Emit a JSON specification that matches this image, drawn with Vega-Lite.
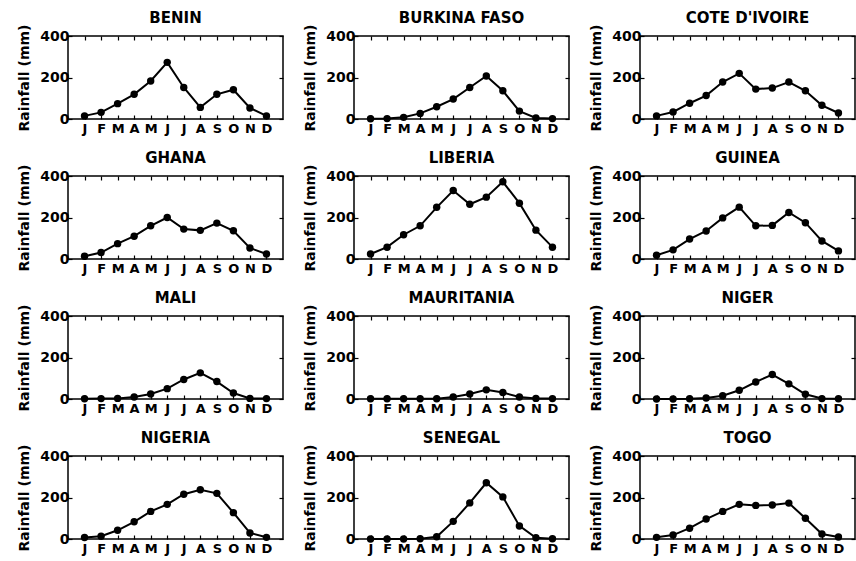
{
  "$schema": "https://vega.github.io/schema/vega-lite/v6.json",
  "background": "white",
  "padding": {"left": 17, "top": 10, "right": 2, "bottom": 2},
  "data": {"values": [
    {"c":"BENIN","i":1,"r":15},{"c":"BENIN","i":2,"r":32},{"c":"BENIN","i":3,"r":74},{"c":"BENIN","i":4,"r":119},{"c":"BENIN","i":5,"r":183},{"c":"BENIN","i":6,"r":273},{"c":"BENIN","i":7,"r":152},{"c":"BENIN","i":8,"r":56},{"c":"BENIN","i":9,"r":119},{"c":"BENIN","i":10,"r":141},{"c":"BENIN","i":11,"r":53},{"c":"BENIN","i":12,"r":15},
    {"c":"BURKINA FASO","i":1,"r":1},{"c":"BURKINA FASO","i":2,"r":2},{"c":"BURKINA FASO","i":3,"r":8},{"c":"BURKINA FASO","i":4,"r":27},{"c":"BURKINA FASO","i":5,"r":59},{"c":"BURKINA FASO","i":6,"r":96},{"c":"BURKINA FASO","i":7,"r":152},{"c":"BURKINA FASO","i":8,"r":207},{"c":"BURKINA FASO","i":9,"r":136},{"c":"BURKINA FASO","i":10,"r":38},{"c":"BURKINA FASO","i":11,"r":5},{"c":"BURKINA FASO","i":12,"r":2},
    {"c":"COTE D'IVOIRE","i":1,"r":15},{"c":"COTE D'IVOIRE","i":2,"r":34},{"c":"COTE D'IVOIRE","i":3,"r":76},{"c":"COTE D'IVOIRE","i":4,"r":113},{"c":"COTE D'IVOIRE","i":5,"r":178},{"c":"COTE D'IVOIRE","i":6,"r":220},{"c":"COTE D'IVOIRE","i":7,"r":144},{"c":"COTE D'IVOIRE","i":8,"r":149},{"c":"COTE D'IVOIRE","i":9,"r":178},{"c":"COTE D'IVOIRE","i":10,"r":136},{"c":"COTE D'IVOIRE","i":11,"r":66},{"c":"COTE D'IVOIRE","i":12,"r":29},
    {"c":"GHANA","i":1,"r":13},{"c":"GHANA","i":2,"r":31},{"c":"GHANA","i":3,"r":74},{"c":"GHANA","i":4,"r":110},{"c":"GHANA","i":5,"r":160},{"c":"GHANA","i":6,"r":200},{"c":"GHANA","i":7,"r":144},{"c":"GHANA","i":8,"r":138},{"c":"GHANA","i":9,"r":173},{"c":"GHANA","i":10,"r":136},{"c":"GHANA","i":11,"r":53},{"c":"GHANA","i":12,"r":24},
    {"c":"LIBERIA","i":1,"r":24},{"c":"LIBERIA","i":2,"r":57},{"c":"LIBERIA","i":3,"r":117},{"c":"LIBERIA","i":4,"r":160},{"c":"LIBERIA","i":5,"r":249},{"c":"LIBERIA","i":6,"r":330},{"c":"LIBERIA","i":7,"r":264},{"c":"LIBERIA","i":8,"r":298},{"c":"LIBERIA","i":9,"r":372},{"c":"LIBERIA","i":10,"r":269},{"c":"LIBERIA","i":11,"r":139},{"c":"LIBERIA","i":12,"r":57},
    {"c":"GUINEA","i":1,"r":18},{"c":"GUINEA","i":2,"r":44},{"c":"GUINEA","i":3,"r":96},{"c":"GUINEA","i":4,"r":135},{"c":"GUINEA","i":5,"r":198},{"c":"GUINEA","i":6,"r":250},{"c":"GUINEA","i":7,"r":160},{"c":"GUINEA","i":8,"r":162},{"c":"GUINEA","i":9,"r":224},{"c":"GUINEA","i":10,"r":175},{"c":"GUINEA","i":11,"r":87},{"c":"GUINEA","i":12,"r":39},
    {"c":"MALI","i":1,"r":1},{"c":"MALI","i":2,"r":2},{"c":"MALI","i":3,"r":3},{"c":"MALI","i":4,"r":10},{"c":"MALI","i":5,"r":24},{"c":"MALI","i":6,"r":50},{"c":"MALI","i":7,"r":94},{"c":"MALI","i":8,"r":126},{"c":"MALI","i":9,"r":84},{"c":"MALI","i":10,"r":29},{"c":"MALI","i":11,"r":3},{"c":"MALI","i":12,"r":2},
    {"c":"MAURITANIA","i":1,"r":1},{"c":"MAURITANIA","i":2,"r":1},{"c":"MAURITANIA","i":3,"r":1},{"c":"MAURITANIA","i":4,"r":1},{"c":"MAURITANIA","i":5,"r":1},{"c":"MAURITANIA","i":6,"r":10},{"c":"MAURITANIA","i":7,"r":24},{"c":"MAURITANIA","i":8,"r":44},{"c":"MAURITANIA","i":9,"r":31},{"c":"MAURITANIA","i":10,"r":10},{"c":"MAURITANIA","i":11,"r":3},{"c":"MAURITANIA","i":12,"r":2},
    {"c":"NIGER","i":1,"r":0},{"c":"NIGER","i":2,"r":0},{"c":"NIGER","i":3,"r":1},{"c":"NIGER","i":4,"r":5},{"c":"NIGER","i":5,"r":16},{"c":"NIGER","i":6,"r":42},{"c":"NIGER","i":7,"r":82},{"c":"NIGER","i":8,"r":118},{"c":"NIGER","i":9,"r":73},{"c":"NIGER","i":10,"r":23},{"c":"NIGER","i":11,"r":2},{"c":"NIGER","i":12,"r":1},
    {"c":"NIGERIA","i":1,"r":7},{"c":"NIGERIA","i":2,"r":13},{"c":"NIGERIA","i":3,"r":42},{"c":"NIGERIA","i":4,"r":83},{"c":"NIGERIA","i":5,"r":133},{"c":"NIGERIA","i":6,"r":167},{"c":"NIGERIA","i":7,"r":216},{"c":"NIGERIA","i":8,"r":237},{"c":"NIGERIA","i":9,"r":220},{"c":"NIGERIA","i":10,"r":127},{"c":"NIGERIA","i":11,"r":29},{"c":"NIGERIA","i":12,"r":8},
    {"c":"SENEGAL","i":1,"r":0},{"c":"SENEGAL","i":2,"r":0},{"c":"SENEGAL","i":3,"r":0},{"c":"SENEGAL","i":4,"r":1},{"c":"SENEGAL","i":5,"r":11},{"c":"SENEGAL","i":6,"r":85},{"c":"SENEGAL","i":7,"r":174},{"c":"SENEGAL","i":8,"r":271},{"c":"SENEGAL","i":9,"r":203},{"c":"SENEGAL","i":10,"r":63},{"c":"SENEGAL","i":11,"r":6},{"c":"SENEGAL","i":12,"r":1},
    {"c":"TOGO","i":1,"r":8},{"c":"TOGO","i":2,"r":19},{"c":"TOGO","i":3,"r":52},{"c":"TOGO","i":4,"r":96},{"c":"TOGO","i":5,"r":133},{"c":"TOGO","i":6,"r":167},{"c":"TOGO","i":7,"r":162},{"c":"TOGO","i":8,"r":164},{"c":"TOGO","i":9,"r":173},{"c":"TOGO","i":10,"r":100},{"c":"TOGO","i":11,"r":24},{"c":"TOGO","i":12,"r":10}
  ]},
  "facet": {
    "field": "c", "type": "nominal",
    "sort": ["BENIN","BURKINA FASO","COTE D'IVOIRE","GHANA","LIBERIA","GUINEA","MALI","MAURITANIA","NIGER","NIGERIA","SENEGAL","TOGO"],
    "header": {"title": null, "labelFont": "DejaVu Sans", "labelFontWeight": "bold", "labelFontSize": 15, "labelColor": "black", "labelPadding": -2}
  },
  "columns": 3,
  "spacing": {"column": 71, "row": 57},
  "bounds": "flush",
  "resolve": {"axis": {"x": "independent", "y": "independent"}},
  "spec": {
    "width": 215,
    "height": 83,
    "layer": [
      {
        "mark": {"type": "line", "color": "black", "strokeWidth": 2},
        "encoding": {
          "x": {"field": "i", "type": "quantitative", "scale": {"domain": [0, 13]},
                "axis": {"orient": "bottom", "values": [1,2,3,4,5,6,7,8,9,10,11,12], "title": null,
                         "labelExpr": "['J','F','M','A','M','J','J','A','S','O','N','D'][datum.value-1]"}},
          "y": {"field": "r", "type": "quantitative", "scale": {"domain": [0, 400]},
                "axis": {"orient": "left", "values": [0, 200, 400], "title": "Rainfall (mm)"}}
        }
      },
      {
        "mark": {"type": "point", "filled": true, "color": "black", "size": 55, "opacity": 1},
        "encoding": {
          "x": {"field": "i", "type": "quantitative",
                "axis": {"orient": "top", "values": [1,2,3,4,5,6,7,8,9,10,11,12], "labels": false, "title": null}},
          "y": {"field": "r", "type": "quantitative",
                "axis": {"orient": "right", "values": [0, 200, 400], "labels": false, "title": null}}
        }
      }
    ],
    "resolve": {"axis": {"x": "independent", "y": "independent"}}
  },
  "config": {
    "view": {"stroke": "black", "strokeWidth": 1.5},
    "axis": {
      "domain": false, "grid": false,
      "ticks": true, "tickSize": -4, "tickColor": "black", "tickWidth": 1.2,
      "labelFont": "DejaVu Sans", "labelFontWeight": "bold", "labelColor": "black",
      "titleFont": "DejaVu Sans", "titleFontWeight": "bold", "titleColor": "black", "titleFontSize": 14
    },
    "axisX": {"labelFontSize": 13, "labelPadding": 7, "labelAngle": 0},
    "axisY": {"labelFontSize": 14, "labelPadding": 3, "titlePadding": 8}
  }
}
